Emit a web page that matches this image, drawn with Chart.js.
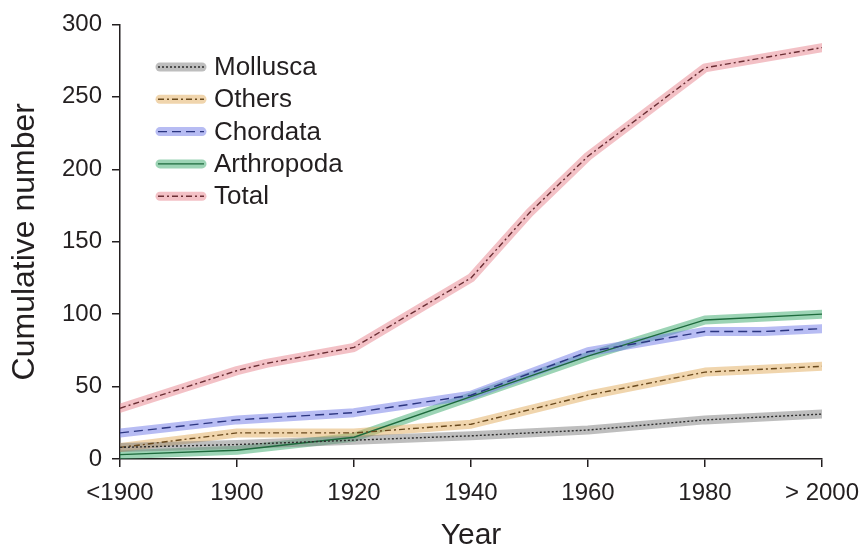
<!DOCTYPE html>
<html>
<head>
<meta charset="utf-8">
<script src="https://cdn.jsdelivr.net/npm/chart.js@4"></script>
<style>
  body { margin: 0; background: #fff; }
</style>
</head>
<body>
<canvas id="chart" width="866" height="549"></canvas>
<script>
// data; "<1900" sits at 1880, "> 2000" at 2000
const molluscaYears = [1880, 1900, 1920, 1940, 1960, 1980, 2000];
const molluscaCounts = [8, 10, 13, 16, 20, 27, 31];

const othersYears = [1880, 1900, 1920, 1940, 1960, 1980, 1990, 2000];
const othersCounts = [8, 18, 18, 24, 44, 60, 62, 64];

const chordataYears = [1880, 1900, 1920, 1940, 1950, 1960, 1980, 1990, 2000];
const chordataCounts = [18, 27, 32, 44, 59, 74, 88, 88, 90];

const arthropodaYears = [1880, 1900, 1920, 1940, 1960, 1980, 2000];
const arthropodaCounts = [3, 6, 15, 43, 71, 96, 100];

const totalYears = [1880, 1900, 1905, 1920, 1940, 1950, 1960, 1980, 2000];
const totalCounts = [35, 61, 66, 77, 125, 170, 209, 270, 284];

const xTicks = [1880, 1900, 1920, 1940, 1960, 1980, 2000];
const xTickLabels = ['<1900', '1900', '1920', '1940', '1960', '1980', '> 2000'];

const seriesNames = ['Mollusca', 'Others', 'Chordata', 'Arthropoda', 'Total'];

const styles = [
    { band: 'rgba(125,125,125,0.5)', line: '#2e2e2e', dash: [2, 2] },
    { band: 'rgba(226,172,92,0.5)', line: '#6a4a1e', dash: [6, 3, 2, 3] },
    { band: 'rgba(112,122,232,0.5)', line: '#2b3580', dash: [9, 5] },
    { band: 'rgba(58,170,108,0.5)', line: '#1d6a3c', dash: [] },
    { band: 'rgba(232,132,142,0.5)', line: '#6b2f35', dash: [6, 3, 2, 3] }
];

const allYears = [molluscaYears, othersYears, chordataYears, arthropodaYears, totalYears];
const allCounts = [molluscaCounts, othersCounts, chordataCounts, arthropodaCounts, totalCounts];

const font = 'Liberation Sans, Arial, Helvetica, sans-serif';
const ink = '#231f20';

function points(years, counts) {
    return years.map((y, i) => ({ x: y, y: counts[i] }));
}

const datasets = [];
seriesNames.forEach((name, i) => {
    const pts = points(allYears[i], allCounts[i]);
    // wide pale band underneath
    datasets.push({
        label: name + ' band',
        data: pts,
        borderColor: styles[i].band,
        borderWidth: 9,
        borderCapStyle: 'round',
        borderJoinStyle: 'round',
        pointRadius: 0,
        order: 2
    });
    // thin dark line on top
    datasets.push({
        label: name,
        data: pts,
        borderColor: styles[i].line,
        borderWidth: 1.4,
        borderDash: styles[i].dash,
        pointRadius: 0,
        order: 1
    });
});

// legend drawn by hand so each swatch shows band + line
const legendBox = {
    id: 'legendBox',
    afterDatasetsDraw(chart) {
        const ctx = chart.ctx;
        ctx.save();
        seriesNames.forEach((name, i) => {
            const y = 67 + i * 32.3;
            ctx.lineCap = 'round';
            ctx.strokeStyle = styles[i].band;
            ctx.lineWidth = 9;
            ctx.setLineDash([]);
            ctx.beginPath();
            ctx.moveTo(160, y);
            ctx.lineTo(202, y);
            ctx.stroke();
            ctx.lineCap = 'butt';
            ctx.strokeStyle = styles[i].line;
            ctx.lineWidth = 1.4;
            ctx.setLineDash(styles[i].dash);
            ctx.beginPath();
            ctx.moveTo(158, y);
            ctx.lineTo(204, y);
            ctx.stroke();
            ctx.setLineDash([]);
            ctx.fillStyle = ink;
            ctx.font = '26px ' + font;
            ctx.textBaseline = 'middle';
            ctx.fillText(name, 214, y + 1);
        });
        ctx.restore();
    }
};

new Chart(document.getElementById('chart'), {
    type: 'line',
    data: { datasets: datasets },
    options: {
        responsive: false,
        animation: false,
        layout: { padding: { top: 21, right: 44, left: 0, bottom: 0 } },
        plugins: {
            legend: { display: false },
            tooltip: { enabled: false }
        },
        scales: {
            x: {
                type: 'linear',
                min: 1880,
                max: 2000,
                afterBuildTicks: (scale) => {
                    scale.ticks = xTicks.map(v => ({ value: v }));
                },
                afterFit: (scale) => {
                    scale.height = 90;
                    scale.paddingLeft = 0;
                    scale.paddingRight = 0;
                },
                ticks: {
                    color: ink,
                    font: { family: font, size: 24 },
                    padding: 12,
                    maxRotation: 0,
                    autoSkip: false,
                    callback: (v) => xTickLabels[xTicks.indexOf(v)]
                },
                grid: { drawOnChartArea: false, drawTicks: true, tickLength: 8, color: ink, lineWidth: 1.5 },
                border: { display: true, color: ink, width: 1.5 },
                title: {
                    display: true,
                    text: 'Year',
                    color: ink,
                    font: { family: font, size: 30, lineHeight: 0.9 },
                    padding: { top: 0, bottom: 0 }
                }
            },
            y: {
                min: 0,
                max: 300,
                afterFit: (scale) => { scale.width = 120; },
                ticks: {
                    stepSize: 50,
                    color: ink,
                    font: { family: font, size: 24 },
                    padding: 10
                },
                grid: { drawOnChartArea: false, drawTicks: true, tickLength: 8, color: ink, lineWidth: 1.5 },
                border: { display: true, color: ink, width: 1.5 },
                title: {
                    display: true,
                    text: 'Cumulative number',
                    color: ink,
                    font: { family: font, size: 32 },
                    padding: { top: 6, bottom: 0 }
                }
            }
        }
    },
    plugins: [legendBox]
});
</script>
</body>
</html>
